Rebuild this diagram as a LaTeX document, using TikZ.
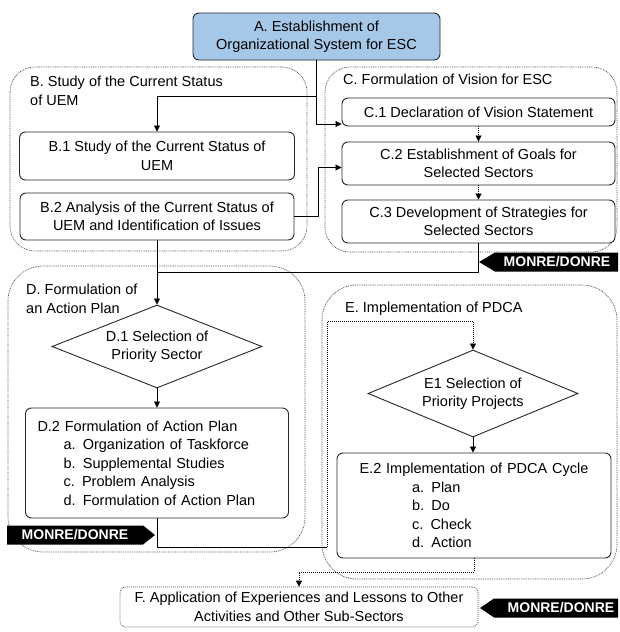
\documentclass[tikz,border=0pt]{standalone}
\usepackage{fontspec}
\setmainfont{Liberation Sans}
\usetikzlibrary{arrows.meta,shapes.geometric}

\definecolor{boxblue}{RGB}{166,200,232}
\definecolor{edgeline}{RGB}{40,40,40}
\definecolor{groupline}{RGB}{80,80,80}

\begin{document}
\begin{tikzpicture}[x=1pt,y=-1pt,
  every node/.style={font=\fontsize{14.5}{18.5}\selectfont, inner sep=0pt},
  stepbox/.style={draw=edgeline, line width=0.9pt, rounded corners=6pt, fill=white, align=center},
  groupbox/.style={draw=groupline, line width=0.7pt, dash pattern=on 0.9pt off 0.9pt},
  decide/.style={diamond, draw=edgeline, line width=0.9pt, aspect=2.5, fill=white, align=center},
  conn/.style={draw=black, line width=0.8pt},
  flow/.style={conn, -{Triangle[length=6pt,width=6pt]}},
  flowdot/.style={flow, dash pattern=on 1pt off 1pt},
  tagfill/.style={fill=black},
  tagtext/.style={text=white, font=\fontsize{14}{16}\selectfont\bfseries},
  grouptitle/.style={anchor=north west, align=left}
]
% canvas
\fill[white] (0,0) rectangle (620,632);
\useasboundingbox (0,0) rectangle (620,632);

% group outlines
\draw[groupbox, rounded corners=25pt] (10,67) rectangle (307,251);
\draw[groupbox, rounded corners=25pt] (325,67) rectangle (617,252);
\draw[groupbox, rounded corners=35pt] (8,266) rectangle (305,552);
\draw[groupbox, rounded corners=35pt] (322,285) rectangle (617,579);

% group titles
\node[grouptitle] (Bt) at (30,76) {B. Study of the Current Status\\of UEM};
\node[grouptitle] (Ct) at (343,74) {C. Formulation of Vision for ESC};
\node[grouptitle] (Dt) at (26,284) {D. Formulation of\\an Action Plan};
\node[grouptitle] (Et) at (345,302) {E. Implementation of PDCA};

% steps
\node[stepbox, fill=boxblue, minimum width=247pt, minimum height=47pt] (A) at (316.5,36.5)
  {A. Establishment of\\Organizational System for ESC};
\node[stepbox, minimum width=275pt, minimum height=48pt] (B1) at (157,156)
  {B.1 Study of the Current Status of\\UEM};
\node[stepbox, minimum width=274pt, minimum height=47pt] (B2) at (157,216.5)
  {B.2 Analysis of the Current Status of\\UEM and Identification of Issues};
\node[stepbox, minimum width=273pt, minimum height=28pt] (C1) at (478.5,112)
  {C.1 Declaration of Vision Statement};
\node[stepbox, minimum width=273pt, minimum height=43pt] (C2) at (478.5,163.5)
  {C.2 Establishment of Goals for\\Selected Sectors};
\node[stepbox, minimum width=273pt, minimum height=43pt] (C3) at (478.5,221.5)
  {C.3 Development of Strategies for\\Selected Sectors};
\node[decide, minimum width=210pt, minimum height=83pt] (D1) at (157,346.5)
  {D.1 Selection of\\Priority Sector};
\node[stepbox, align=left, inner xsep=12pt, text width=239pt, minimum height=110pt] (D2) at (157,463)
  {D.2 Formulation of Action Plan\\
   \hspace*{26pt}a. Organization of Taskforce\\
   \hspace*{26pt}b. Supplemental Studies\\
   \hspace*{26pt}c. Problem Analysis\\
   \hspace*{26pt}d. Formulation of Action Plan};
\node[decide, minimum width=210pt, minimum height=87pt] (E1) at (473,393.5)
  {E1 Selection of\\Priority Projects};
\node[stepbox, align=left, text width=274pt, minimum height=105pt] (E2) at (474,505.5)
  {\makebox[274pt][c]{E.2 Implementation of PDCA Cycle}\\
   \hspace*{75pt}a. Plan\\
   \hspace*{75pt}b. Do\\
   \hspace*{75pt}c. Check\\
   \hspace*{75pt}d. Action};
\node[stepbox, draw=groupline, dash pattern=on 1pt off 1pt, line width=0.7pt, minimum width=358pt, minimum height=40pt] (F) at (299,607)
  {F. Application of Experiences and Lessons to Other\\Activities and Other Sub-Sectors};

% connectors
\coordinate (jA) at (316.5,96);
\coordinate (jC) at (157,272);
\coordinate (jD) at (327,547);
\draw[flow] (A.south) |- ([yshift=-12pt]C1.west);
\draw[flow] (jA) -| (B1.north);
\draw[flow] (B2.east) -- ++(23.5,0) |- ([yshift=-4pt]C2.west);
\draw[flowdot] (C1.south) -- (C2.north);
\draw[flowdot] (C2.south) -- (C3.north);
\draw[conn] (C3.south) |- (jC);
\draw[flow] (B2.south) -- (D1.north);
\draw[flow] (D1.south) -- (D2.north);
\draw[conn] (D2.south) |- (jD);
\draw[flowdot] (jD) |- ([yshift=28pt]E1.north) -- (E1.north);
\draw[flow] (E1.south) -- (E1.south |- E2.north);
\draw[flowdot] (E2.south) -- ++(0,14) -| (F.north);

% responsibility tags
\fill[tagfill] (479,262) -- (495,252.5) -- (618,252.5) -- (618,271.5) -- (495,271.5) -- cycle;
\node[tagtext] (tagC) at (557,262) {MONRE/DONRE};
\fill[tagfill] (7,525.5) -- (143,525.5) -- (155,535) -- (143,544.5) -- (7,544.5) -- cycle;
\node[tagtext] (tagD) at (75,535) {MONRE/DONRE};
\fill[tagfill] (480,608) -- (494,598.5) -- (618,598.5) -- (618,617.5) -- (494,617.5) -- cycle;
\node[tagtext] (tagF) at (561,608) {MONRE/DONRE};
\end{tikzpicture}
\end{document}
